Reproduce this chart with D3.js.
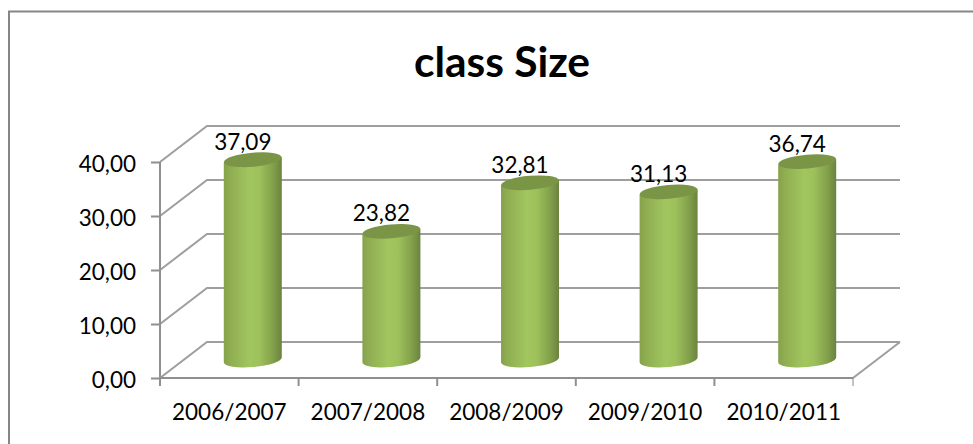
<!DOCTYPE html>
<html>
<head>
<meta charset="utf-8">
<script src="https://cdnjs.cloudflare.com/ajax/libs/d3/7.8.5/d3.min.js"></script>
<style>
  html, body { margin: 0; padding: 0; background: #fff; }
  svg { display: block; }
  text { font-family: Lato, "Open Sans", sans-serif; fill: #000; }
</style>
</head>
<body>
<div id="chart"></div>
<script>
const categories = ["2006/2007", "2007/2008", "2008/2009", "2009/2010", "2010/2011"];
const values = [37.09, 23.82, 32.81, 31.13, 36.74];
const yTicks = [0, 10, 20, 30, 40];
const title = "class Size";

const W = 973, H = 444;
const comma = d3.format(".2f");
const fmt = v => comma(v).replace(".", ",");

const svg = d3.select("#chart").append("svg")
  .attr("width", W)
  .attr("height", H);

// frame of the chart area
svg.append("path")
  .attr("d", `M9,${H} V11.5 H${W}`)
  .attr("fill", "none")
  .attr("stroke", "#868686")
  .attr("stroke-width", 2);

// front plane of the 3d box, depth is the shift to the back wall
const x = d3.scaleBand().domain(categories).range([160, 853]);
const y = d3.scaleLinear().domain([0, 40]).range([378, 162]);
const depth = { x: 47, y: -36 };

const defs = svg.append("defs");
const grad = defs.append("linearGradient").attr("id", "cyl");
[[0, "#86a24b"], [0.12, "#90ae52"], [0.45, "#a2c65f"], [0.62, "#9dc05b"], [0.85, "#82a04b"], [1, "#6b833f"]]
  .forEach(([o, c]) => grad.append("stop").attr("offset", o).attr("stop-color", c));

const grid = svg.append("g")
  .attr("fill", "none")
  .attr("stroke", "#9e9e9e")
  .attr("stroke-width", 2);

// back wall gridlines and side wall diagonals
yTicks.forEach(t => {
  grid.append("path")
    .attr("d", `M160,${y(t)} L${160 + depth.x},${y(t) + depth.y} H${853 + depth.x}`);
});
// floor right edge
grid.append("path")
  .attr("d", `M853,${y(0)} L${853 + depth.x},${y(0) + depth.y}`);

// axes
const axisY = svg.append("g")
  .attr("transform", "translate(160,0)")
  .call(d3.axisLeft(y).tickValues(yTicks).tickSize(9).tickPadding(15).tickFormat(fmt));
const axisX = svg.append("g")
  .attr("transform", `translate(0,${y(0)})`)
  .call(d3.axisBottom(x).tickSize(8).tickPadding(18));
axisX.selectAll(".tick line")
  .attr("transform", `translate(${-x.bandwidth() / 2},0)`);
axisX.append("line")
  .attr("x1", 853).attr("x2", 853)
  .attr("y1", 0).attr("y2", 8)
  .attr("stroke", "#868686");
[axisY, axisX].forEach(a => {
  a.selectAll("path.domain").attr("stroke", "#8f8f8f").attr("stroke-width", 2);
  a.selectAll(".tick line").attr("stroke", "#8f8f8f").attr("stroke-width", 2);
  a.selectAll("text").style("font-family", "Lato").style("font-size", "22.5px").attr("fill", "#000");
});
axisY.selectAll("text").attr("dy", "0.42em");
axisY.select("path.domain").attr("d", `M0,${y(40)} V${y(0)}`);
axisX.select("path.domain").attr("d", `M160,0 H853`);

// cylinders stand half way into the box
const rx = 29, ry = 7, tilt = -5;
const cx = d => x(d.cat) + x.bandwidth() / 2 + depth.x / 2;
const base = y(0) + depth.y / 2;
const topY = d => y(d.val) + depth.y / 2;
const data = categories.map((cat, i) => ({ cat, val: values[i] }));

const bars = svg.selectAll("g.bar").data(data).enter().append("g").attr("class", "bar");

bars.append("path")
  .attr("fill", "url(#cyl)")
  .attr("d", d => {
    const dy = rx * Math.sin(tilt * Math.PI / 180);
    return `M${cx(d) - rx},${topY(d) - dy} L${cx(d) + rx},${topY(d) + dy} ` +
      `L${cx(d) + rx},${base + dy} ` +
      `A${rx},${ry} ${tilt} 0 1 ${cx(d) - rx},${base - dy} Z`;
  });

bars.append("ellipse")
  .attr("rx", rx)
  .attr("ry", ry)
  .attr("fill", "#7a9546")
  .attr("transform", d => `translate(${cx(d)},${topY(d)}) rotate(${tilt})`);

bars.append("text")
  .attr("x", d => cx(d) - 10)
  .attr("y", d => topY(d) - 10)
  .attr("text-anchor", "middle")
  .style("font-size", "22.5px")
  .text(d => fmt(d.val));

svg.append("text")
  .attr("x", 502)
  .attr("y", 77)
  .attr("text-anchor", "middle")
  .style("font-size", "42.5px")
  .style("font-weight", "700")
  .text(title);
</script>
</body>
</html>
